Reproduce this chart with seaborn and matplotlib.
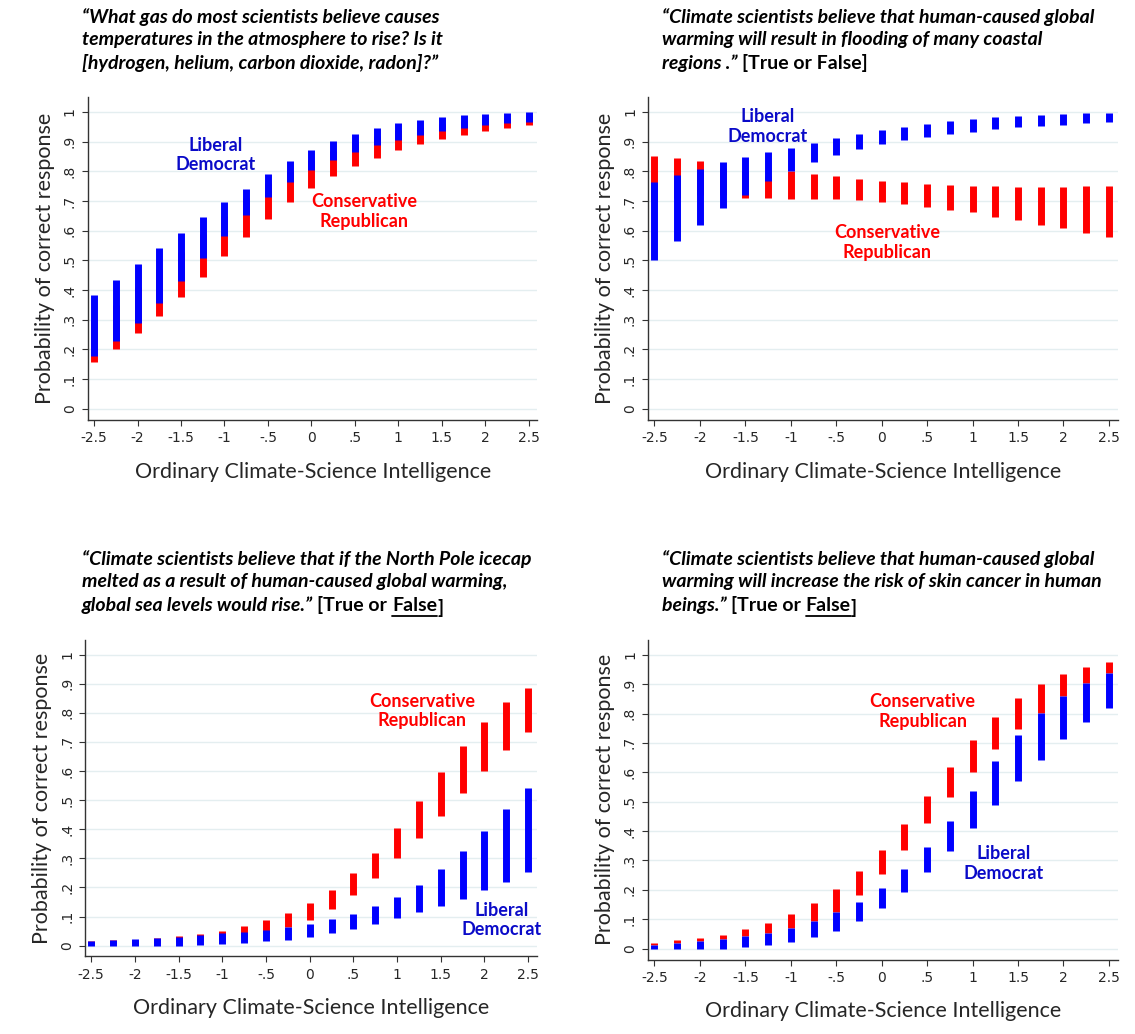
import numpy as np
import matplotlib
matplotlib.use("Agg")
import matplotlib.pyplot as plt
import seaborn as sns
from matplotlib.lines import Line2D

sns.set_style("whitegrid")
plt.rcParams['font.family'] = ['Lato', 'DejaVu Sans']

x_vals = [-2.5, -2.25, -2, -1.75, -1.5, -1.25, -1, -0.75, -0.5, -0.25, 0,
          0.25, 0.5, 0.75, 1, 1.25, 1.5, 1.75, 2, 2.25, 2.5]
xtick_vals = [-2.5, -2, -1.5, -1, -0.5, 0, 0.5, 1, 1.5, 2, 2.5]
xtick_labels = ["-2.5", "-2", "-1.5", "-1", "-.5", "0", ".5", "1", "1.5", "2", "2.5"]
ytick_vals = [0, .1, .2, .3, .4, .5, .6, .7, .8, .9, 1]
ytick_labels = ["0", ".1", ".2", ".3", ".4", ".5", ".6", ".7", ".8", ".9", "1"]

# Panel 1
p1_dem_hi = [0.382, 0.434, 0.489, 0.543, 0.594, 0.646, 0.696, 0.742, 0.790, 0.834, 0.871,
             0.901, 0.926, 0.947, 0.963, 0.974, 0.983, 0.989, 0.994, 0.998, 1.000]
p1_dem_lo = [0.177, 0.228, 0.289, 0.357, 0.430, 0.508, 0.582, 0.652, 0.713, 0.765, 0.804,
             0.838, 0.865, 0.890, 0.907, 0.924, 0.936, 0.946, 0.956, 0.962, 0.967]
p1_rep_hi = [0.30, 0.35, 0.41, 0.47, 0.53, 0.59, 0.65, 0.71, 0.76, 0.80, 0.84,
             0.87, 0.90, 0.92, 0.94, 0.95, 0.96, 0.97, 0.98, 0.98, 0.99]
p1_rep_lo = [0.157, 0.202, 0.255, 0.314, 0.377, 0.444, 0.514, 0.580, 0.641, 0.697, 0.745,
             0.784, 0.818, 0.846, 0.871, 0.892, 0.910, 0.923, 0.936, 0.947, 0.955]

# Panel 2
p2_dem_hi = [0.764, 0.788, 0.809, 0.830, 0.849, 0.866, 0.880, 0.897, 0.913, 0.927, 0.940,
             0.951, 0.961, 0.970, 0.976, 0.983, 0.988, 0.991, 0.994, 0.997, 0.998]
p2_dem_lo = [0.503, 0.564, 0.621, 0.676, 0.722, 0.767, 0.803, 0.833, 0.856, 0.876, 0.892,
             0.906, 0.917, 0.926, 0.934, 0.942, 0.948, 0.954, 0.957, 0.962, 0.965]
p2_rep_hi = [0.852, 0.845, 0.836, 0.81, 0.80, 0.785, 0.801, 0.792, 0.783, 0.775, 0.767,
             0.763, 0.757, 0.754, 0.752, 0.751, 0.749, 0.749, 0.749, 0.751, 0.751]
p2_rep_lo = [0.70, 0.71, 0.72, 0.72, 0.711, 0.709, 0.708, 0.707, 0.706, 0.702, 0.697,
             0.689, 0.681, 0.671, 0.662, 0.647, 0.635, 0.621, 0.608, 0.593, 0.579]

# Panel 3
p3_dem_hi = [0.017, 0.019, 0.022, 0.026, 0.030, 0.035, 0.042, 0.047, 0.055, 0.064, 0.075,
             0.091, 0.109, 0.136, 0.168, 0.210, 0.262, 0.324, 0.395, 0.469, 0.543]
p3_dem_lo = [0.0, 0.0, 0.0, 0.0, 0.0, 0.002, 0.005, 0.010, 0.015, 0.021, 0.030,
             0.044, 0.058, 0.074, 0.094, 0.115, 0.137, 0.162, 0.190, 0.219, 0.253]
p3_rep_hi = [0.015, 0.018, 0.021, 0.025, 0.033, 0.039, 0.052, 0.067, 0.087, 0.112, 0.147,
             0.190, 0.249, 0.319, 0.403, 0.498, 0.596, 0.686, 0.768, 0.836, 0.886]
p3_rep_lo = [0.005, 0.006, 0.007, 0.009, 0.012, 0.015, 0.020, 0.030, 0.045, 0.064, 0.087,
             0.125, 0.173, 0.233, 0.300, 0.371, 0.445, 0.523, 0.601, 0.673, 0.735]

# Panel 4
p4_dem_hi = [0.013, 0.019, 0.026, 0.033, 0.042, 0.055, 0.072, 0.093, 0.124, 0.160, 0.208,
             0.270, 0.346, 0.435, 0.536, 0.637, 0.727, 0.802, 0.861, 0.903, 0.937]
p4_dem_lo = [0.0, 0.0, 0.0, 0.0, 0.006, 0.012, 0.024, 0.039, 0.061, 0.094, 0.137,
             0.194, 0.260, 0.331, 0.410, 0.488, 0.570, 0.643, 0.712, 0.770, 0.819]
p4_rep_hi = [0.021, 0.028, 0.037, 0.048, 0.066, 0.087, 0.117, 0.154, 0.203, 0.263, 0.337,
             0.424, 0.519, 0.618, 0.710, 0.789, 0.854, 0.901, 0.936, 0.960, 0.975]
p4_rep_lo = [0.013, 0.019, 0.026, 0.033, 0.042, 0.055, 0.072, 0.093, 0.124, 0.182, 0.253,
             0.337, 0.426, 0.516, 0.602, 0.680, 0.747, 0.802, 0.861, 0.903, 0.937]

BLUE = "#0000ff"
RED = "#ff0000"
BLUE_T = "#0a0ac8"

fig = plt.figure(figsize=(11.35, 10.34), dpi=100)

panels = [
    dict(rect=[0.0775, 0.594, 0.396, 0.312], dh=p1_dem_hi, dl=p1_dem_lo, rh=p1_rep_hi, rl=p1_rep_lo,
         lib=(-1.1, 0.855), con=(0.61, 0.665)),
    dict(rect=[0.571, 0.594, 0.414, 0.312], dh=p2_dem_hi, dl=p2_dem_lo, rh=p2_rep_hi, rl=p2_rep_lo,
         lib=(-1.26, 0.95), con=(0.06, 0.56)),
    dict(rect=[0.075, 0.075, 0.398, 0.306], dh=p3_dem_hi, dl=p3_dem_lo, rh=p3_rep_hi, rl=p3_rep_lo,
         lib=(2.2, 0.088), con=(1.29, 0.806)),
    dict(rect=[0.571, 0.072, 0.414, 0.309], dh=p4_dem_hi, dl=p4_dem_lo, rh=p4_rep_hi, rl=p4_rep_lo,
         lib=(1.34, 0.29), con=(0.45, 0.807)),
]

for p in panels:
    ax = fig.add_axes(p["rect"])
    ax.vlines(x_vals, p["rl"], p["rh"], color=RED, linewidth=5, zorder=3)
    ax.vlines(x_vals, p["dl"], p["dh"], color=BLUE, linewidth=5, zorder=4)
    ax.set_xlim(-2.57, 2.6)
    ax.set_ylim(-0.037, 1.05)
    ax.set_xticks(xtick_vals)
    ax.set_xticklabels(xtick_labels, fontsize=10, family=['DejaVu Sans'])
    ax.set_yticks(ytick_vals)
    ax.set_yticklabels(ytick_labels, fontsize=10, rotation=90, va='center', family=['DejaVu Sans'])
    ax.tick_params(axis='both', length=4, width=0.8, color='#333333', left=True, bottom=True, pad=4)
    ax.grid(axis='y', color='#e4eef0', linewidth=1)
    ax.grid(axis='x', visible=False)
    for s in ['top', 'right']:
        ax.spines[s].set_visible(False)
    for s in ['left', 'bottom']:
        ax.spines[s].set_color('#333333')
        ax.spines[s].set_linewidth(1)
    ax.set_ylabel("Probability of correct response", fontsize=15.5, labelpad=6)
    ax.set_xlabel("Ordinary Climate-Science Intelligence", fontsize=15.5, labelpad=12)
    ax.text(p["lib"][0], p["lib"][1], "Liberal\nDemocrat", color=BLUE_T, fontsize=13,
            fontweight='bold', ha='center', va='center', linespacing=1.2, zorder=5)
    ax.text(p["con"][0], p["con"][1], "Conservative\nRepublican", color=RED, fontsize=13,
            fontweight='bold', ha='center', va='center', linespacing=1.2, zorder=5)

BI = dict(fontsize=14, fontweight='bold', fontstyle='italic', color='black')
BN = dict(fontsize=14, fontweight='bold', fontstyle='normal', color='black')

titles = [
    (82, 8, [[("\u201cWhat gas do most scientists believe causes", BI, False)],
             [("temperatures in the atmosphere to rise? Is it", BI, False)],
             [("[hydrogen, helium, carbon dioxide, radon]?\u201d", BI, False)]]),
    (662, 8, [[("\u201cClimate scientists believe that human-caused global", BI, False)],
              [("warming will result in flooding of many coastal", BI, False)],
              [("regions .\u201d ", BI, False), ("[True or False]", BN, False)]]),
    (82, 550, [[("\u201cClimate scientists believe that if the North Pole icecap", BI, False)],
               [("melted as a result of human-caused global warming,", BI, False)],
               [("global sea levels would rise.\u201d ", BI, False), ("[True or ", BN, False),
                ("False", BN, True), ("]", BN, False)]]),
    (662, 550, [[("\u201cClimate scientists believe that human-caused global", BI, False)],
                [("warming will increase the risk of skin cancer in human", BI, False)],
                [("beings.\u201d ", BI, False), ("[True or ", BN, False),
                 ("False", BN, True), ("]", BN, False)]]),
]

W, H = 1135, 1034
underlined = []
chained = []
for (px, py, lines) in titles:
    for i, segs in enumerate(lines):
        ytop = py + i * 23
        prev = None
        for (txt, st, ul) in segs:
            if prev is None:
                t = fig.text(px / W, 1 - ytop / H, txt, ha='left', va='top', **st)
            else:
                t = fig.text(0, 0, txt, ha='left', va='baseline', **st)
                chained.append((t, prev))
            if ul:
                underlined.append(t)
            prev = t

fig.canvas.draw()
renderer = fig.canvas.get_renderer()
inv = fig.transFigure.inverted()
for t, a in chained:
    bb = a.get_window_extent(renderer)
    _, _, d = renderer.get_text_width_height_descent(a.get_text(), a.get_fontproperties(), ismath=False)
    fx, fy = inv.transform((bb.x1, bb.y0 + d))
    t.set_position((fx, fy))
    fig.canvas.draw()

for t in underlined:
    bb = t.get_window_extent(renderer)
    _, _, d = renderer.get_text_width_height_descent(t.get_text(), t.get_fontproperties(), ismath=False)
    x0, y0 = inv.transform((bb.x0, bb.y0 + d - 2))
    x1, _ = inv.transform((bb.x1, bb.y0 + d - 2))
    fig.add_artist(Line2D([x0, x1], [y0, y0], transform=fig.transFigure, color='black', linewidth=1.3))

fig.savefig("out.png", dpi=100)
